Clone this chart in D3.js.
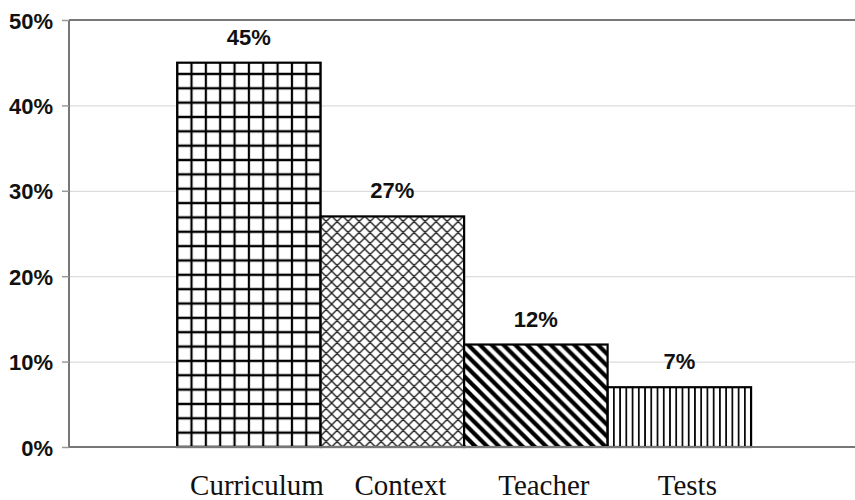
<!DOCTYPE html>
<html>
<head>
<meta charset="utf-8">
<script src="https://cdn.jsdelivr.net/npm/d3@7"></script>
<style>
  body { margin: 0; background: #fff; }
  svg { display: block; }
</style>
</head>
<body>
<div id="container"></div>
<script>
let w = 855;
let h = 500;

// data
let categories = ["Curriculum", "Context", "Teacher", "Tests"];
let values = [45, 27, 12, 7];
let patternNames = ["grid", "cross", "diag", "vert"];
let yTicks = [0, 10, 20, 30, 40, 50];

let plotLeft = 69, plotTop = 20, plotBottom = 447, plotRight = 855;

let viz = d3.select("#container").append("svg")
  .attr("width", w)
  .attr("height", h);

let xScale = d3.scaleBand()
  .domain(categories)
  .range([plotLeft, plotRight])
  .paddingInner(0)
  .paddingOuter(0.739)
  .align(0.51);

let yScale = d3.scaleLinear().domain([0, 50]).range([plotBottom, plotTop]);

let bw = xScale.bandwidth();

// hatch patterns, one per bar, started at the bar's left edge
let defs = viz.append("defs");
function makePattern(name, cat, size) {
  let pat = defs.append("pattern")
    .attr("id", name)
    .attr("patternUnits", "userSpaceOnUse")
    .attr("x", xScale(cat))
    .attr("y", plotBottom)
    .attr("width", size)
    .attr("height", size);
  pat.append("rect").attr("width", size).attr("height", size).attr("fill", "#fff");
  return pat;
}
let p, s;
// square grid (lines on both tile edges so they are not cut in half)
s = bw / 10;
p = makePattern("grid", categories[0], s);
p.append("path")
  .attr("d", "M0,0V" + s + "M" + s + ",0V" + s + "M0,0H" + s + "M0," + s + "H" + s)
  .attr("stroke", "#000").attr("stroke-width", 2.2);

// diagonal cross hatch
s = 11;
p = makePattern("cross", categories[1], s);
p.append("path")
  .attr("d", "M0,0L11,11M-11,0L0,11M11,0L22,11M11,0L0,11M0,0L-11,11M22,0L11,11")
  .attr("stroke", "#222").attr("stroke-width", 1.4);

// thick "\" stripes
s = 11.8;
p = makePattern("diag", categories[2], s);
p.append("path")
  .attr("d", "M-3,-3L14.8,14.8M-8.9,2.9L2.9,14.7M8.9,-2.9L20.7,8.9")
  .attr("stroke", "#000").attr("stroke-width", 4.2);

// thin vertical lines
s = bw / 23;
p = makePattern("vert", categories[3], s);
p.append("path")
  .attr("d", "M0,0V" + s + "M" + s + ",0V" + s)
  .attr("stroke", "#000").attr("stroke-width", 1.7);

// gridlines
let yGrid = d3.axisLeft(yScale)
  .tickValues(yTicks.filter(t => t > 0 && t < 50))
  .tickSize(-(plotRight - plotLeft))
  .tickFormat("");
let gridGroup = viz.append("g").attr("transform", "translate(" + plotLeft + ",0)").call(yGrid);
gridGroup.select(".domain").remove();
gridGroup.selectAll("line").attr("stroke", "#dcdcdc").attr("stroke-width", 1.2);

// top border
viz.append("line")
  .attr("x1", plotLeft).attr("x2", plotRight)
  .attr("y1", yScale(50)).attr("y2", yScale(50))
  .attr("stroke", "#777").attr("stroke-width", 2);

// bars
viz.append("g").selectAll("rect")
  .data(values)
  .enter()
  .append("rect")
  .attr("x", (d, i) => xScale(categories[i]))
  .attr("width", bw)
  .attr("y", d => yScale(d))
  .attr("height", d => plotBottom - yScale(d))
  .attr("fill", (d, i) => "url(#" + patternNames[i] + ")")
  .attr("stroke", "#000")
  .attr("stroke-width", 2.2);

// value labels
viz.append("g").selectAll("text")
  .data(values)
  .enter()
  .append("text")
  .attr("x", (d, i) => xScale(categories[i]) + bw / 2)
  .attr("y", d => yScale(d) - 18)
  .attr("text-anchor", "middle")
  .style("font-family", "'Liberation Sans', Arial, sans-serif")
  .style("font-weight", "bold")
  .style("font-size", "22px")
  .attr("fill", "#111")
  .text(d => d + "%");

// y axis
let yAxis = d3.axisLeft(yScale)
  .tickValues(yTicks)
  .tickSize(7)
  .tickPadding(9)
  .tickFormat(d => d + "%");
let yAxisGroup = viz.append("g").attr("transform", "translate(" + plotLeft + ",0)").call(yAxis);
yAxisGroup.select(".domain").attr("stroke", "#777").attr("stroke-width", 2).attr("d", "M0," + plotTop + "V" + plotBottom);
yAxisGroup.selectAll("line").attr("stroke", "#999").attr("stroke-width", 1.5);
yAxisGroup.selectAll("text")
  .style("font-family", "'Liberation Sans', Arial, sans-serif")
  .style("font-weight", "bold")
  .style("font-size", "22px")
  .attr("fill", "#111")
  .attr("dy", "0.37em");

// x axis
let xAxis = d3.axisBottom(xScale).tickSize(0).tickPadding(0);
let xAxisGroup = viz.append("g").attr("transform", "translate(0," + plotBottom + ")").call(xAxis);
xAxisGroup.select(".domain").attr("stroke", "#777").attr("stroke-width", 2).attr("d", "M" + plotLeft + ",0H" + plotRight);
xAxisGroup.selectAll("text")
  .attr("y", 48)
  .attr("dy", 0)
  .attr("dx", 8)
  .style("font-family", "'Liberation Serif', 'Times New Roman', serif")
  .style("font-size", "29px")
  .attr("fill", "#111");
</script>
</body>
</html>
